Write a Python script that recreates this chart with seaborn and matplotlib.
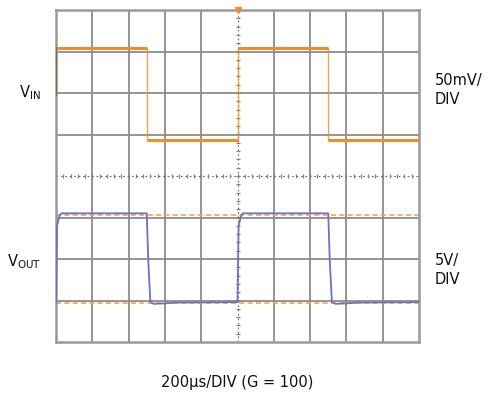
import numpy as np
import pandas as pd
import matplotlib
matplotlib.use("Agg")
import matplotlib.pyplot as plt
import seaborn as sns

# scope trace data, in graticule divisions (x: 0..10, y: 0..8)
t_in = [0, 0, 2.5, 2.5, 5.0, 5.0, 7.5, 7.5, 10]
v_in = [5.95, 7.08, 7.08, 4.87, 4.87, 7.08, 7.08, 4.87, 4.87]

t_out = [0, 0.03, 0.1, 0.15, 2.5, 2.54, 2.6, 2.7, 3.0, 3.3, 5.0,
         5.03, 5.1, 5.15, 7.5, 7.54, 7.6, 7.7, 8.0, 8.3, 10]
v_out = [0.96, 2.8, 3.05, 3.1, 3.1, 2.0, 0.96, 0.92, 0.93, 0.95, 0.96,
         2.8, 3.05, 3.1, 3.1, 2.0, 0.96, 0.92, 0.93, 0.95, 0.96]

# ideal output levels (dashed)
ref_t = [0, 10]
ref_hi = [3.06, 3.06]
ref_lo = [0.95, 0.95]

sns.set_style("white")
plt.rcParams['font.family'] = ['DejaVu Sans']

fig = plt.figure(figsize=(4.88, 3.98), dpi=100)
ax = fig.add_axes([56/488, 1-342/398, 363/488, 332/398])

# graticule
grid_c = '#8c8c8c'
for x in range(1, 10):
    if x != 5:
        ax.axvline(x, color=grid_c, lw=1.3, zorder=1)
for y in range(1, 8):
    if y != 4:
        ax.axhline(y, color=grid_c, lw=1.3, zorder=1)
ax.axvline(5, color='#666666', lw=0.8, ls=(0, (1.5, 2.5)), zorder=1)
ax.axhline(4, color='#666666', lw=0.8, ls=(0, (1.5, 2.5)), zorder=1)
minor_x = np.arange(0.2, 10, 0.2)
minor_y = np.arange(0.2, 8, 0.2)
ax.plot(minor_x, np.full_like(minor_x, 4), ls='none', marker='|', ms=3,
        mew=0.9, color='#808080', zorder=1)
ax.plot(np.full_like(minor_y, 5), minor_y, ls='none', marker='_', ms=3,
        mew=0.9, color='#808080', zorder=1)

for s in ax.spines.values():
    s.set_visible(True)
    s.set_color('#999999')
    s.set_linewidth(1.8)

orange = '#EF8E22'
sns.lineplot(x=ref_t, y=ref_hi, ax=ax, color='#F5A54A', lw=1.2,
             zorder=2).lines[-1].set_linestyle((0, (3, 2)))
sns.lineplot(x=ref_t, y=ref_lo, ax=ax, color='#F5A54A', lw=1.2,
             zorder=2).lines[-1].set_linestyle((0, (3, 2)))

# input trace: thin edges, heavier flat levels
df_in = pd.DataFrame({'t': t_in, 'v': v_in})
ax.plot(df_in.t, df_in.v, color=orange, lw=1.0, alpha=0.8, zorder=3)
flat = df_in.copy()
step = np.r_[False, np.diff(flat.t.values) == 0]
flat.loc[step, 'v'] = np.nan
for a, b in [(1, 2), (3, 4), (5, 6), (7, 8)]:
    seg = df_in.iloc[[a, b]]
    ax.plot(seg.t, seg.v, color=orange, lw=2.2, solid_capstyle='butt', zorder=3)
ax.plot(df_in.t[:2], df_in.v[:2], color='#7a6a5a', lw=1.5, zorder=4)

ax.plot(t_out, v_out, color='#6a74cc', lw=1.3, zorder=4)
ax.plot(t_out, v_out, color='#8a6aa8', lw=0.6, alpha=0.5, zorder=4)

# trigger marker
ax.plot([5], [8], marker='v', ms=5, color=orange, clip_on=False, zorder=5)

ax.set_xlim(0, 10)
ax.set_ylim(0, 8)
ax.set_xticks([])
ax.set_yticks([])

fs = 10.5
tc = '#111111'
fig.text(41/488, 1-93/398, r'V$_{\mathregular{IN}}$', ha='right', va='center', fontsize=fs, color=tc)
fig.text(41/488, 1-262/398, r'V$_{\mathregular{OUT}}$', ha='right', va='center', fontsize=fs, color=tc)
fig.text(435/488, 1-73/398, '50mV/\nDIV', ha='left', va='top', fontsize=fs, linespacing=1.3, color=tc)
fig.text(435/488, 1-253/398, '5V/\nDIV', ha='left', va='top', fontsize=fs, linespacing=1.3, color=tc)
fig.text(237/488, 1-382/398, '200µs/DIV (G = 100)', ha='center', va='center', fontsize=fs, color=tc)

fig.savefig('out.png', dpi=100)
